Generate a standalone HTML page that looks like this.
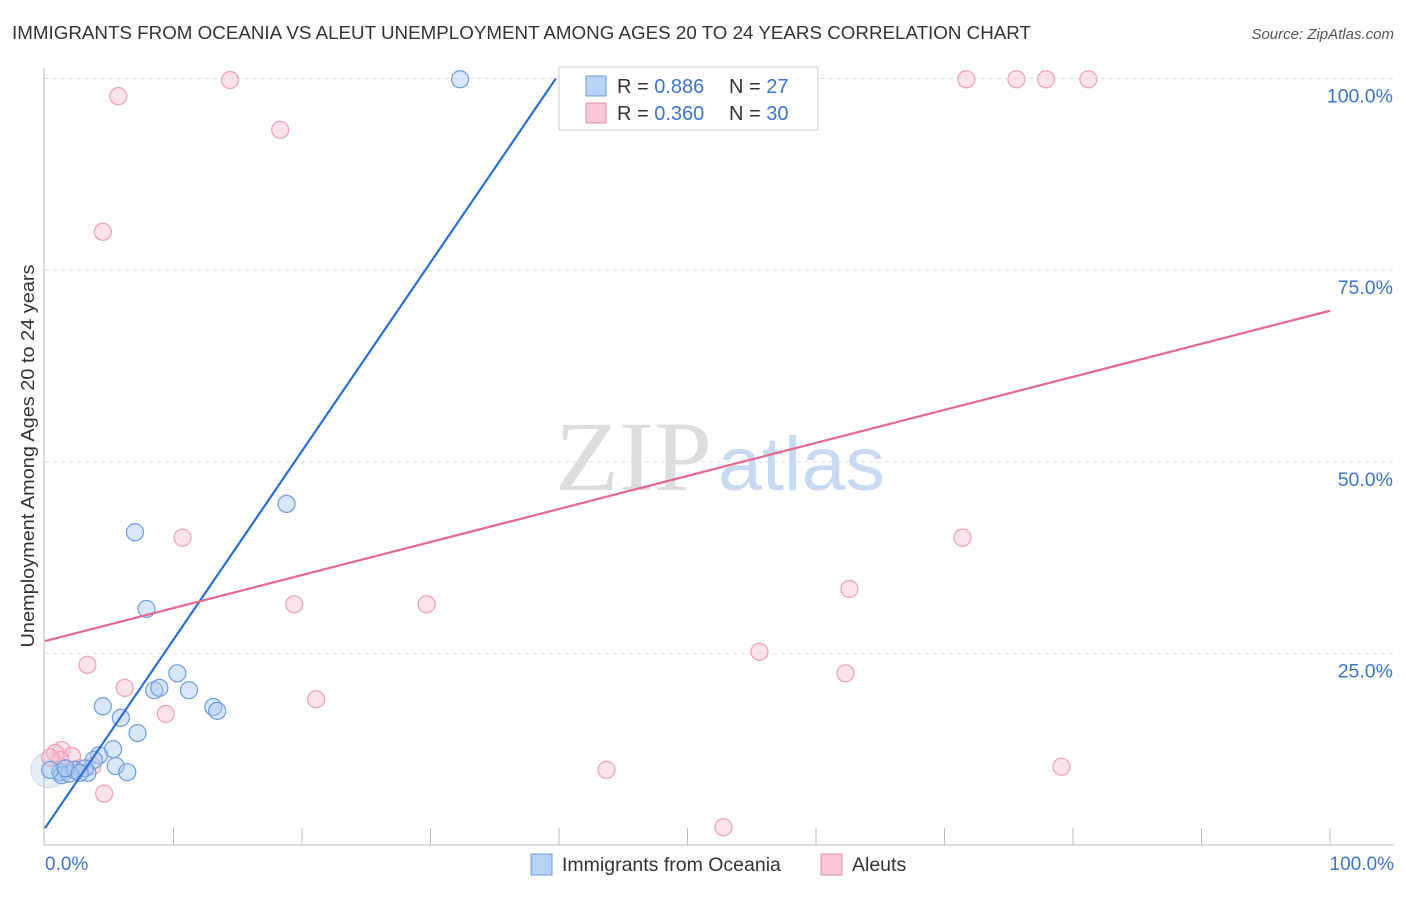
<!DOCTYPE html>
<html><head><meta charset="utf-8"><style>
body{margin:0;background:#fff;font-family:"Liberation Sans",sans-serif}
</style></head><body>
<svg width="1406" height="892" viewBox="0 0 1406 892" font-family="Liberation Sans, sans-serif">
<text x="12" y="39" font-size="18" fill="#333" textLength="1019" lengthAdjust="spacingAndGlyphs">IMMIGRANTS FROM OCEANIA VS ALEUT UNEMPLOYMENT AMONG AGES 20 TO 24 YEARS CORRELATION CHART</text>
<text x="1394" y="39" font-size="15" fill="#555" font-style="italic" text-anchor="end">Source: ZipAtlas.com</text>
<text x="555" y="490" font-size="100" fill="#ddd" font-family="Liberation Serif, serif" textLength="157" lengthAdjust="spacingAndGlyphs">ZIP</text>
<text x="718" y="490" font-size="76" fill="#c8daf2" textLength="167" lengthAdjust="spacingAndGlyphs">atlas</text>
<g id="grid"></g>
<g id="axes"></g>
<g id="marks"></g>
<text transform="translate(34,456) rotate(-90)" font-size="18" fill="#333" text-anchor="middle" textLength="383" lengthAdjust="spacingAndGlyphs">Unemployment Among Ages 20 to 24 years</text>
<text x="45" y="870" font-size="19" fill="#3a75d4">0.0%</text>
<text x="1394" y="870" font-size="19" fill="#3a75d4" text-anchor="end">100.0%</text>
<g>
<rect x="559" y="67" width="259" height="63" fill="#fff" stroke="#ccc"/>
<rect x="586" y="76" width="20" height="20" fill="#b8d2f5" stroke="#6a9de0"/>
<rect x="586" y="103" width="20" height="20" fill="#f9c8d6" stroke="#e98aa8"/>
<text x="617" y="93" font-size="20" fill="#333">R = <tspan fill="#3a75d4">0.886</tspan><tspan x="729">N = </tspan><tspan fill="#3a75d4">27</tspan></text>
<text x="617" y="120" font-size="20" fill="#333">R = <tspan fill="#3a75d4">0.360</tspan><tspan x="729">N = </tspan><tspan fill="#3a75d4">30</tspan></text>
</g>
<g>
<rect x="531" y="854" width="21" height="21" fill="#b8d2f5" stroke="#6a9de0"/>
<text x="562" y="871" font-size="19.5" fill="#333">Immigrants from Oceania</text>
<rect x="821" y="854" width="21" height="21" fill="#f9c8d6" stroke="#e98aa8"/>
<text x="852" y="871" font-size="19.5" fill="#333">Aleuts</text>
</g>
</svg>
<script>
const yTicks=[25,50,75,100];
const yTickLabels=["25.0%","50.0%","75.0%","100.0%"];
const xTicks=[10,20,30,40,50,60,70,80,90,100];
const blueX=[32.3,18.8,7.0,7.9,10.3,8.5,8.9,11.2,4.5,13.1,13.4,5.9,7.2,5.3,4.2,3.8,5.5,6.4,1.2,3.3,1.3,0.4,1.9,2.3,3.1,1.6,2.7];
const blueY=[99.9,44.5,40.8,30.8,22.4,20.2,20.5,20.2,18.1,18.0,17.5,16.6,14.6,12.5,11.7,11.1,10.3,9.5,9.5,9.4,9.1,9.8,9.3,9.8,10.0,10.0,9.4];
const pinkX=[5.7,14.4,18.3,4.5,10.7,19.4,29.7,21.1,6.2,9.4,3.3,55.6,62.6,62.3,71.4,43.7,52.8,79.1,71.7,75.6,77.9,81.2,4.6,1.3,0.8,2.1,3.7,1.2,2.7,0.4];
const pinkY=[97.7,99.8,93.3,80.0,40.1,31.4,31.4,19.0,20.5,17.1,23.5,25.2,33.4,22.4,40.1,9.8,2.3,10.2,99.9,99.9,99.9,99.9,6.7,12.4,12.0,11.6,10.3,11.1,10.0,11.4];
const blueLine=[2.2,2.46];
const pinkLine=[26.6,69.7];
const NS="http://www.w3.org/2000/svg";
const xs=v=>45+v*12.85, ys=v=>845-v*7.665;
function mk(t,a,p){const e=document.createElementNS(NS,t);for(const k in a)e.setAttribute(k,a[k]);document.getElementById(p).appendChild(e);return e;}
yTicks.forEach((t,i)=>{
 const l=mk('line',{x1:45,x2:1394,y1:ys(t),y2:ys(t),stroke:'#ddd','stroke-dasharray':'4,4'},'grid');
 
 
 const tx=mk('text',{x:1393,y:ys(t)+24,'font-size':19.5,fill:'#3a75d4','text-anchor':'end'},'grid');
 tx.textContent=yTickLabels[i];
 
 
});
let a=mk('line',{x1:44,x2:44,y1:68,y2:845,stroke:'#bbb'},'axes');


a=mk('line',{x1:44,x2:1394,y1:845,y2:845,stroke:'#bbb'},'axes');


xTicks.forEach(t=>{const l=mk('line',{x1:xs(t),x2:xs(t),y1:828,y2:845,stroke:'#bbb'},'axes');
 
 });
const big=mk('circle',{cx:xs(0.3),cy:ys(9.8),r:18,fill:'rgba(170,195,235,0.3)',stroke:'rgba(106,157,224,0.3)'},'marks');


pinkX.forEach((x,i)=>{const c=mk('circle',{cx:xs(x),cy:ys(pinkY[i]),r:8.5,fill:'rgba(249,190,208,0.45)',stroke:'#eda0b8','stroke-width':1.2},'marks');
 
 });
blueX.forEach((x,i)=>{const c=mk('circle',{cx:xs(x),cy:ys(blueY[i]),r:8.5,fill:'rgba(170,200,240,0.45)',stroke:'#6a9de0','stroke-width':1.2},'marks');
 
 });
const bx2=(100-blueLine[0])/blueLine[1];
let ln=mk('line',{x1:xs(0),y1:ys(blueLine[0]),x2:xs(bx2),y2:ys(100),stroke:'#2a6fd6','stroke-width':2.2},'marks');


ln=mk('line',{x1:xs(0),y1:ys(pinkLine[0]),x2:xs(100),y2:ys(pinkLine[1]),stroke:'#e46890','stroke-width':2.2},'marks');


</script>
</body></html>
